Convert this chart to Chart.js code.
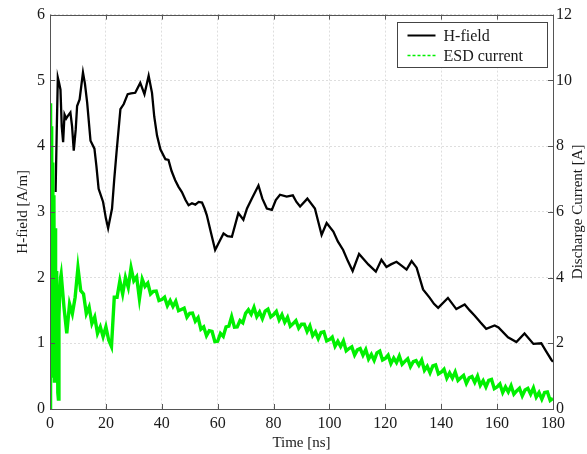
<!DOCTYPE html>
<html>
<head>
<meta charset="utf-8">
<script src="https://cdn.jsdelivr.net/npm/chart.js@4"></script>
<style>
  body { margin: 0; background: #fff; }
</style>
</head>
<body>
<canvas id="esdGraph" width="587" height="454"></canvas>
<script>
// H-field trace (left axis, A/m)
const hTime = [2.0, 2.4, 2.8, 3.3, 3.75, 4.2, 4.7, 5.2, 5.8, 6.4, 7.3, 7.9, 8.5, 9.2, 9.7, 10.6, 11.8, 12.5, 13.3, 14.5,
  15.9, 16.6, 17.4, 19.0, 20.0, 20.8, 22.2, 23.0, 23.8, 25.2, 26.4, 27.8, 29, 30.5, 32.3, 33.8, 35.3, 36.5, 37.3, 38.3,
  39.5, 41.3, 42.4, 43.5, 44.8, 46, 47.2, 48.5, 49.6, 50.8, 52, 53.2, 54.4, 55.3, 56.1, 57.5, 59.1, 60.9, 62.1, 63.5,
  65.1, 67.4, 69.2, 70.5, 72.2, 74.6, 76, 77.6, 79.4, 80.8, 82.3, 84.7, 86.9, 88.2, 89.5, 92.1, 94.8, 96, 97.2, 99,
  101.4, 103, 104.9, 106.6, 108.3, 110.6, 113.9, 116.6, 118.6, 120.4, 122, 124, 125.8, 127.6, 129.4, 131.2, 133.5, 135.9, 137.4, 138.9,
  142.4, 145.4, 148.4, 150.2, 152, 154, 156.1, 159.1, 160.5, 163.9, 166.9, 169.8, 173, 175.8, 177.5, 179.4, 180];
const hField = [3.3, 4.2, 5.04, 4.95, 4.86, 4.3, 4.06, 4.48, 4.42, 4.46, 4.51, 4.3, 3.93, 4.25, 4.61, 4.71, 5.12, 4.95, 4.66, 4.08,
  3.96, 3.7, 3.35, 3.15, 2.9, 2.75, 3.05, 3.5, 3.9, 4.56, 4.64, 4.79, 4.8, 4.81, 4.96, 4.79, 5.07, 4.81, 4.45, 4.16,
  3.95, 3.8, 3.79, 3.62, 3.48, 3.38, 3.3, 3.18, 3.1, 3.13, 3.11, 3.15, 3.14, 3.05, 2.95, 2.7, 2.42, 2.57, 2.67, 2.63,
  2.62, 2.98, 2.88, 3.05, 3.2, 3.4, 3.2, 3.05, 3.03, 3.18, 3.26, 3.23, 3.25, 3.15, 3.08, 3.2, 3.05, 2.85, 2.65, 2.83,
  2.7, 2.55, 2.42, 2.25, 2.1, 2.36, 2.2, 2.09, 2.27, 2.16, 2.2, 2.24, 2.18, 2.12, 2.25, 2.15, 1.82, 1.69, 1.6, 1.54,
  1.69, 1.52, 1.59, 1.5, 1.42, 1.32, 1.22, 1.27, 1.24, 1.09, 1.02, 1.15, 0.99, 1.0, 0.88, 0.75, 0.72];

// ESD current (right axis, A): the first spike, then one reading per ns from 4 ns on
const iStartTime = [0, 0.2, 0.4, 0.6, 0.8, 1.0, 1.2, 1.4, 1.6, 1.8, 2.0, 2.2, 2.4, 2.6, 2.8, 3.0, 3.2, 3.5, 3.8];
const iStartCurrent = [0, 9.3, 2.5, 8.6, 1.5, 7.5, 1.0, 6.5, 0.8, 5.5, 1.2, 4.2, 0.9, 3.6, 0.5, 0.3, 2.8, 3.6, 4.0];
const iCurrent = [4.1, 3.1, 2.3, 3.2, 2.9, 3.4, 4.3, 3.6, 3.5, 2.9, 3.1, 2.6, 2.8, 2.3, 2.5, 2.2, 2.5, 2.1, 1.9, 3.4,
  3.4, 3.9, 3.5, 4.0, 3.7, 4.3, 3.9, 4.02, 3.35, 3.95, 3.73, 3.83, 3.5, 3.58, 3.59, 3.3, 3.33, 3.4, 3.14, 3.3,
  3.12, 3.28, 2.99, 3.03, 3.07, 2.79, 2.91, 2.92, 2.67, 2.78, 2.43, 2.5, 2.23, 2.38, 2.36, 2.05, 2.06, 2.3, 2.21, 2.5,
  2.52, 2.81, 2.49, 2.5, 2.69, 2.62, 2.91, 3.02, 2.88, 3.09, 2.81, 2.95, 2.75, 2.98, 3.04, 2.8, 2.87, 2.97, 2.71, 2.87,
  2.64, 2.79, 2.52, 2.6, 2.69, 2.46, 2.58, 2.58, 2.36, 2.53, 2.23, 2.35, 2.14, 2.33, 2.35, 2.07, 2.11, 2.19, 1.91, 2.06,
  1.9, 2.07, 1.77, 1.84, 1.89, 1.64, 1.8, 1.84, 1.64, 1.81, 1.52, 1.66, 1.48, 1.71, 1.76, 1.49, 1.54, 1.64, 1.38, 1.55,
  1.41, 1.61, 1.36, 1.45, 1.53, 1.29, 1.44, 1.47, 1.33, 1.49, 1.18, 1.3, 1.1, 1.31, 1.34, 1.07, 1.12, 1.21, 0.94, 1.1,
  0.94, 1.13, 0.87, 0.95, 1.02, 0.78, 0.95, 0.99, 0.81, 1.0, 0.72, 0.86, 0.67, 0.87, 0.9, 0.62, 0.67, 0.76, 0.5, 0.67,
  0.52, 0.71, 0.45, 0.55, 0.63, 0.4, 0.58, 0.63, 0.45, 0.64, 0.36, 0.5, 0.3, 0.5, 0.52, 0.26, 0.32];

const seriesLabels = ["H-field", "ESD current"];
const xTitle = "Time [ns]";
const yTitle = "H-field [A/m]";
const y1Title = "Discharge Current [A]";

const iTime = iStartTime.concat(iCurrent.map((v, k) => 4 + k));
const iAll = iStartCurrent.concat(iCurrent);

const serif = "'Liberation Serif', 'DejaVu Serif', serif";
const inkColor = "#1a1a1a";
const frameColor = "#555";
const green = "rgb(0, 240, 0)";

// frame on top, inside tick marks, right axis title (reads upwards) and the boxed legend
const framePlugin = {
  id: "framePlugin",
  afterDatasetsDraw(chart) {
    const { ctx, chartArea: a, scales } = chart;
    ctx.save();
    ctx.strokeStyle = frameColor;
    ctx.lineWidth = 1;
    ctx.beginPath();
    scales.x.ticks.forEach(t => {
      const px = Math.round(scales.x.getPixelForValue(t.value)) + 0.5;
      ctx.moveTo(px, a.bottom); ctx.lineTo(px, a.bottom - 5);
      ctx.moveTo(px, a.top); ctx.lineTo(px, a.top + 5);
    });
    scales.y.ticks.forEach(t => {
      const py = Math.round(scales.y.getPixelForValue(t.value)) + 0.5;
      ctx.moveTo(a.left, py); ctx.lineTo(a.left + 5, py);
      ctx.moveTo(a.right, py); ctx.lineTo(a.right - 5, py);
    });
    ctx.stroke();
    ctx.strokeRect(Math.round(a.left) + 0.5, Math.round(a.top) + 0.5,
      Math.round(a.right - a.left), Math.round(a.bottom - a.top));

    ctx.save();
    ctx.translate(chart.width - 9, (a.top + a.bottom) / 2);
    ctx.rotate(-Math.PI / 2);
    ctx.font = "15px " + serif;
    ctx.fillStyle = inkColor;
    ctx.textAlign = "center";
    ctx.textBaseline = "middle";
    ctx.fillText(y1Title, 0, 0);
    ctx.restore();

    // legend box in the upper right corner
    const bw = 150, bh = 45;
    const bx = Math.round(a.right - 6 - bw) + 0.5, by = Math.round(a.top + 7) + 0.5;
    ctx.fillStyle = "#fff";
    ctx.fillRect(bx, by, bw, bh);
    ctx.strokeStyle = "#444";
    ctx.strokeRect(bx, by, bw, bh);
    ctx.font = "16px " + serif;
    ctx.textBaseline = "middle";
    chart.data.datasets.slice().sort((p, q) => q.order - p.order).forEach((ds, k) => {
      const ly = by + 13 + k * 20;
      ctx.beginPath();
      ctx.strokeStyle = ds.borderColor;
      ctx.lineWidth = ds.legendWidth;
      ctx.setLineDash(ds.legendDash || []);
      ctx.moveTo(bx + 10, ly); ctx.lineTo(bx + 38, ly);
      ctx.stroke();
      ctx.setLineDash([]);
      ctx.fillStyle = inkColor;
      ctx.fillText(ds.label, bx + 46, ly + 1);
    });
    ctx.restore();
  }
};

const config = {
  type: "line",
  data: {
    datasets: [{
      label: seriesLabels[0],
      data: hTime.map((t, k) => ({ x: t, y: hField[k] })),
      borderColor: "#000",
      borderWidth: 2.3,
      legendWidth: 2,
      yAxisID: "y",
      order: 2
    }, {
      label: seriesLabels[1],
      data: iTime.map((t, k) => ({ x: t, y: iAll[k] })),
      borderColor: green,
      borderWidth: 3.4,
      legendWidth: 1.5,
      legendDash: [3, 2],
      yAxisID: "y1",
      order: 1
    }]
  },
  options: {
    responsive: false,
    animation: false,
    events: [],
    layout: { padding: { top: 11, right: 0, left: 0, bottom: 0 } },
    elements: { point: { radius: 0 }, line: { tension: 0 } },
    plugins: { legend: { display: false }, tooltip: { enabled: false } },
    scales: {
      x: {
        type: "linear",
        min: 0, max: 180,
        afterFit: s => { s.height = 45; },
        ticks: { stepSize: 20, color: inkColor, font: { family: serif, size: 16 }, padding: 5, maxRotation: 0 },
        grid: { color: "rgba(0,0,0,0.13)", drawTicks: false },
        border: { display: false, dash: [2, 2] },
        title: { display: true, text: xTitle, color: inkColor, font: { family: serif, size: 15 }, padding: { top: 0, bottom: 2 } }
      },
      y: {
        position: "left",
        min: 0, max: 6,
        afterFit: s => { s.width = 50; },
        ticks: { stepSize: 1, color: inkColor, font: { family: serif, size: 16 }, padding: 5 },
        grid: { color: "rgba(0,0,0,0.13)", drawTicks: false },
        border: { display: false, dash: [2, 2] },
        title: { display: true, text: yTitle, color: inkColor, font: { family: serif, size: 15 }, padding: { top: 14, bottom: 0 } }
      },
      y1: {
        position: "right",
        min: 0, max: 12,
        afterFit: s => { s.width = 34; },
        ticks: { stepSize: 2, color: inkColor, font: { family: serif, size: 16 }, padding: 3 },
        grid: { display: false, drawTicks: false },
        border: { display: false }
      }
    }
  },
  plugins: [framePlugin]
};

const esdChart = new Chart(document.getElementById("esdGraph"), config);
</script>
</body>
</html>
